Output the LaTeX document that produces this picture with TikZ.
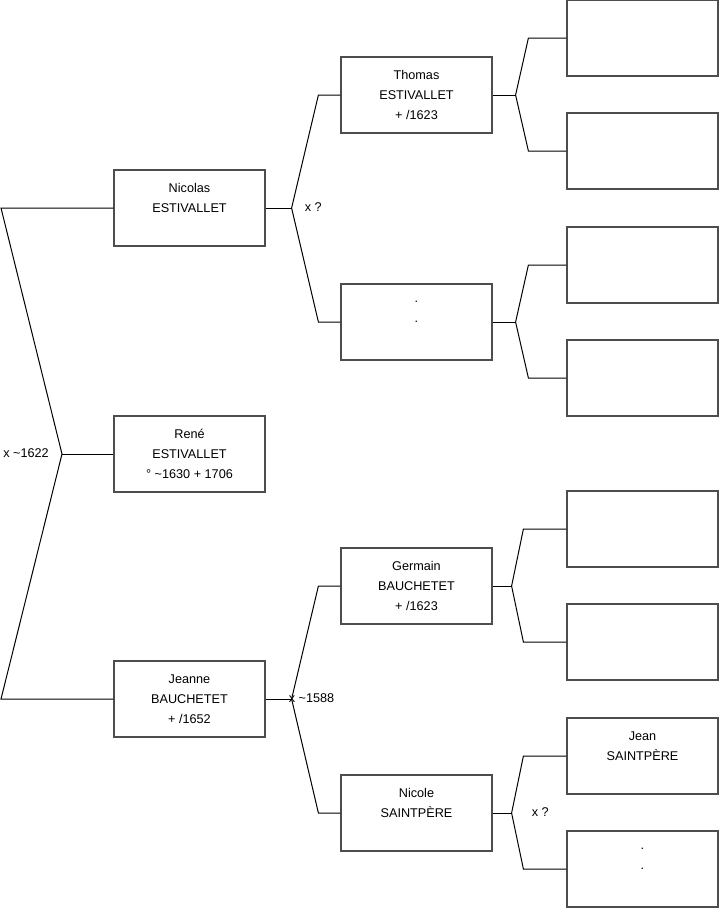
\documentclass[tikz,border=0pt]{standalone}
\usepackage{fontspec}
\setmainfont{Liberation Sans}
\usepackage{xcolor}
\usepackage{tikz}
\usetikzlibrary{calc}
\definecolor{boxgray}{HTML}{4D4D4D}

\begin{document}
\begin{tikzpicture}[x=0.75pt,y=-0.75pt,
    person/.style={draw=boxgray,line width=0.9pt,minimum width=113.25pt,minimum height=57pt,
      inner sep=0pt,align=center,font=\fontsize{9.5}{15}\selectfont},
    link/.style={line width=0.75pt,black},
    wed/.style={anchor=west,inner sep=0pt,font=\fontsize{9.5}{12}\selectfont}]
    \useasboundingbox (0,0) rectangle (719,908);
    % generation 1 and 2
    \node[person] (nicolas) at (189.5,208) {Nicolas\\ESTIVALLET\\\mbox{}};
    \node[person] (rene) at (189.5,454) {René\\ESTIVALLET\\° \textasciitilde1630 + 1706};
    \node[person] (jeanne) at (189.5,699) {Jeanne\\BAUCHETET\\+ /1652};
    \node[person] (thomas) at (416.5,95) {Thomas\\ESTIVALLET\\+ /1623};
    \node[person] (nicolasM) at (416.5,322) {.\\.\\\mbox{}};
    \node[person] (germain) at (416.5,586) {Germain\\BAUCHETET\\+ /1623};
    \node[person] (nicole) at (416.5,813) {Nicole\\SAINTPÈRE\\\mbox{}};
    % generation 3
    \node[person] (thomasF) at (642.5,38) {};
    \node[person] (thomasM) at (642.5,151) {};
    \node[person] (unknownF) at (642.5,265) {};
    \node[person] (unknownM) at (642.5,378) {};
    \node[person] (germainF) at (642.5,529) {};
    \node[person] (germainM) at (642.5,642) {};
    \node[person] (jean) at (642.5,756) {Jean\\SAINTPÈRE\\\mbox{}};
    \node[person] (nicoleM) at (642.5,869) {.\\.\\\mbox{}};
    % couples
    \coordinate (m0) at (62,454);
    \coordinate (edge) at (1,454);
    \draw[link] (nicolas.west) -- (nicolas.west -| edge) -- (m0) -- (jeanne.west -| edge) -- (jeanne.west);
    \draw[link] (m0) -- (rene.west);
    \node[wed] (w0) at (3,453) {x \textasciitilde1622};
    \coordinate (m1) at ($(nicolas.east)+(26,0)$);
    \draw[link] (nicolas.east) -- (m1);
    \draw[link] (thomas.west) -- ++(-22,0) -- (m1) -- ($(nicolasM.west)+(-22,0)$) -- (nicolasM.west);
    \node[wed] (w1) at ($(m1)+(13,-1)$) {x ?};
    \coordinate (m2) at ($(jeanne.east)+(26,0)$);
    \draw[link] (jeanne.east) -- (m2);
    \draw[link] (germain.west) -- ++(-22,0) -- (m2) -- ($(nicole.west)+(-22,0)$) -- (nicole.west);
    \node[wed] (w2) at ($(m2)+(-3,-1)$) {x \textasciitilde1588};
    \coordinate (m3) at ($(thomas.east)+(23,0)$);
    \draw[link] (thomas.east) -- (m3);
    \draw[link] (thomasF.west) -- ++(-38,0) -- (m3) -- ($(thomasM.west)+(-38,0)$) -- (thomasM.west);
    \coordinate (m4) at ($(nicolasM.east)+(23,0)$);
    \draw[link] (nicolasM.east) -- (m4);
    \draw[link] (unknownF.west) -- ++(-38,0) -- (m4) -- ($(unknownM.west)+(-38,0)$) -- (unknownM.west);
    \coordinate (m5) at ($(germain.east)+(19,0)$);
    \draw[link] (germain.east) -- (m5);
    \draw[link] (germainF.west) -- ++(-43,0) -- (m5) -- ($(germainM.west)+(-43,0)$) -- (germainM.west);
    \coordinate (m6) at ($(nicole.east)+(19,0)$);
    \draw[link] (nicole.east) -- (m6);
    \draw[link] (jean.west) -- ++(-43,0) -- (m6) -- ($(nicoleM.west)+(-43,0)$) -- (nicoleM.west);
    \node[wed] (w3) at ($(m6)+(20,-1)$) {x ?};
\end{tikzpicture}
\end{document}
